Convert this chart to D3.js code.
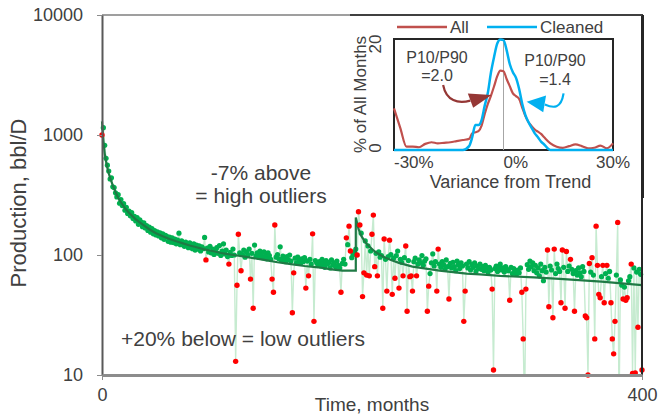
<!DOCTYPE html>
<html>
<head>
<meta charset="utf-8">
<script src="https://cdn.jsdelivr.net/npm/d3@7"></script>
<style>
  body { margin: 0; background: #fff; }
  text { font-family: "Liberation Sans", Arial, sans-serif; fill: #404040; }
</style>
</head>
<body>
<svg id="chart" width="659" height="417"></svg>
<script>
// Monthly production, bbl/D, month 0..400
const production = [
  1000, 1150, 820, 640, 560, 500, 430, 440, 370, 365, 330,
  305, 318, 270, 290, 258, 268, 236, 250, 222, 232,
  212, 226, 201, 210, 192, 205, 180, 196, 188, 172,
  185, 168, 176, 160, 171, 155, 166, 150, 160, 147,
  156, 144, 153, 139, 150, 135, 146, 143, 130, 141,
  128, 139, 127, 136, 124, 133, 152, 122, 131, 126,
  118, 128, 121, 115, 126, 119, 113, 124, 110, 121,
  112, 119, 108, 117, 113, 140, 91, 114, 106, 118,
  104, 112, 101, 110, 115, 103, 120, 99, 108, 124,
  102, 110, 97, 84, 105, 99, 112, 100, 13, 56,
  149, 104, 74, 101, 110, 96, 106, 100, 112, 63,
  103, 36, 121, 98, 104, 96, 108, 101, 95, 106,
  98, 93, 104, 99, 92, 63, 49, 178, 96, 101,
  93, 117, 90, 98, 94, 88, 97, 91, 100, 89,
  33, 71, 94, 86, 96, 91, 85, 93, 88, 95,
  53, 89, 67, 92, 84, 150, 28, 90, 86, 83,
  88, 81, 92, 85, 79, 90, 84, 87, 78, 91,
  83, 86, 80, 89, 82, 78, 49, 85, 92, 84,
  139, 122, 174, 108, 95, 101, 106, 112, 100, 229,
  178, 152, 45, 71, 131, 68, 119, 67, 108, 149,
  215, 80, 103, 67, 106, 96, 99, 36, 136, 92,
  50, 97, 133, 101, 47, 94, 64, 99, 108, 53,
  92, 87, 67, 95, 119, 34, 90, 66, 67, 50,
  88, 94, 67, 84, 91, 86, 99, 82, 89, 93,
  34, 55, 70, 86, 102, 81, 88, 50, 112, 84,
  79, 88, 83, 76, 91, 80, 43, 85, 78, 87,
  80, 74, 89, 83, 77, 86, 81, 28, 50, 84,
  78, 88, 75, 83, 79, 86, 73, 81, 77, 84,
  76, 80, 74, 82, 78, 72, 79, 75, 52, 11,
  77, 81, 73, 79, 84, 75, 78, 72, 80, 76,
  74, 42, 79, 70, 77, 73, 69, 75, 71, 78,
  49, 20, 5, 52, 83, 76, 89, 80, 86, 74,
  82, 71, 78, 67, 84, 74, 61, 79, 72, 110,
  37, 81, 75, 30, 112, 70, 84, 77, 73, 40,
  110, 79, 36, 107, 73, 81, 92, 76, 70, 34,
  74, 68, 78, 71, 66, 80, 73, 31, 30, 10,
  85, 72, 95, 68, 20, 174, 82, 47, 44, 66,
  82, 40, 70, 82, 64, 73, 40, 20, 15, 28,
  68, 187, 5, 62, 56, 43, 54, 42, 44, 61,
  66, 84, 10.3, 78, 10.4, 72, 25, 76, 69, 11
];

// Months flagged as outliers (drawn red)
const outlierMonths = [
  0, 77, 94, 99, 100, 101, 103, 110, 112, 126, 127, 128, 141, 142, 151, 153,
  156, 157, 177, 181, 183, 184, 189, 190, 191, 193, 194, 196, 198, 200, 201,
  202, 204, 208, 209, 211, 213, 215, 217, 220, 223, 225, 226, 228, 229, 230,
  233, 241, 242, 248, 249, 257, 268, 269, 289, 290, 302, 311, 312, 313, 314,
  330, 331, 334, 335, 340, 341, 343, 344, 347, 350, 358, 359, 360, 361, 363,
  365, 366, 367, 368, 369, 371, 372, 374, 377, 378, 379, 380, 382, 383, 386,
  388, 389, 392, 393, 395, 397, 400
];

// Decline trend (with the restart at month 188)
const trendMonths = [0, 1, 2, 3, 4, 5, 6, 8, 10, 12, 14, 17, 20, 25, 30, 35, 40, 45, 50, 55,
  60, 65, 70, 75, 80, 85, 90, 95, 100, 110, 120, 130, 140, 150, 160, 170, 178, 188,
  188, 190, 192, 194, 196, 199, 202, 206, 210, 215, 220, 230, 240, 250, 260, 270,
  280, 295, 320, 342, 370, 400];
const trendValues = [1300, 900, 700, 600, 530, 480, 440, 380, 335, 300, 275, 245, 225, 198, 180, 164, 152, 143, 136, 130,
  125, 120, 116, 112, 109, 106, 103, 101, 99, 95, 91, 87, 84, 81, 79, 76, 74, 74,
  205, 165, 145, 133, 124, 115, 107, 100, 95, 90, 86, 80, 77, 74, 72, 70,
  69, 67, 65, 63, 60, 56];

const yTicks = [10, 100, 1000, 10000];
const xTicks = [0, 400];

// Inset: distribution of monthly variance from trend, % of all months
const varianceBins = [-35, -33, -31, -29, -27, -25, -23, -21, -19, -17, -15, -13, -11, -10, -9, -8,
  -7, -6, -5, -4, -3, -2, -1, 0, 1, 2, 3, 4, 5, 6, 7, 8, 9, 10, 11, 12, 13, 15, 17, 19,
  21, 23, 25, 27, 29, 31, 33, 35];
const allPct = [7.5, 4.0, 0.6, 0.6, 0.5, 1.1, 1.4, 1.2, 1.3, 1.4, 1.6, 1.8, 2.0, 3.0, 3.2, 3.4,
  4.4, 6.5, 8.3, 9.8, 11.5, 13.3, 14.3, 14.2, 12.8, 11.5, 10.2, 9.7, 9.2, 7.6, 6.1, 5.0, 4.3, 3.7, 3.3, 2.9, 2.3, 1.2, 0.6, 0.4,
  0.7, 1.0, 0.7, 0.3, 0.4, 0.8, 0.3, 1.2];
const cleanedPct = [0, 0, 0, 0, 0, 0, 0, 0, 0, 0, 0, 0, 0.7, 2.3, 4.5, 4.5,
  5.4, 8.0, 10.3, 14.0, 16.8, 19.2, 19.9, 19.8, 18.0, 15.5, 14.0, 13.0, 11.0, 8.3, 6.3, 5.0, 4.0, 3.0, 2.3, 1.5, 1.0, 0, 0, 0,
  0, 0, 0, 0, 0, 0, 0, 0];
const insetXTicks = [-30, 0, 30];
const insetYTicks = [0, 20];

const svg = d3.select("#chart");
const FONT = '"Liberation Sans", Arial, sans-serif';

// ---- main chart ----
const x = d3.scaleLinear().domain([0, 400]).range([102, 642]);
const y = d3.scaleLog().domain([10, 10000]).range([375, 15]);

const defs = svg.append("defs");
defs.append("clipPath").attr("id", "plotClip")
  .append("rect").attr("x", x(0)).attr("y", y(10000)).attr("width", x(400) - x(0)).attr("height", y(10) - y(10000));
defs.append("clipPath").attr("id", "dotClip")
  .append("rect").attr("x", x(0) - 4).attr("y", y(10000)).attr("width", x(400) - x(0) + 8).attr("height", y(10) - y(10000) + 3);

const outlierSet = new Set(outlierMonths);
const points = production.map((v, i) => ({ month: i, value: v, outlier: outlierSet.has(i) }));

// all-months trace
svg.append("path")
  .datum(points)
  .attr("clip-path", "url(#plotClip)")
  .attr("fill", "none")
  .attr("stroke", "#c6ebd0")
  .attr("stroke-width", 1.4)
  .attr("d", d3.line().x(d => x(d.month)).y(d => y(d.value)));

// cleaned months
svg.append("g").attr("clip-path", "url(#dotClip)")
  .selectAll("circle")
  .data(points.filter(d => !d.outlier))
  .join("circle")
  .attr("cx", d => x(d.month))
  .attr("cy", d => y(d.value))
  .attr("r", 2.6)
  .attr("fill", "#00b050");

// trend
const trend = trendMonths.map((m, i) => [m, trendValues[i]]);
svg.append("path")
  .datum(trend)
  .attr("fill", "none")
  .attr("stroke", "#1f7a45")
  .attr("stroke-width", 2.2)
  .attr("d", d3.line().x(d => x(d[0])).y(d => y(d[1])));

// outliers
svg.append("g").attr("clip-path", "url(#dotClip)")
  .selectAll("circle")
  .data(points.filter(d => d.outlier))
  .join("circle")
  .attr("cx", d => x(d.month))
  .attr("cy", d => y(d.value))
  .attr("r", 2.7)
  .attr("fill", "#ff0000");

// frame
svg.append("line").attr("x1", x(0)).attr("x2", x(400)).attr("y1", y(10000)).attr("y2", y(10000))
  .attr("stroke", "#7f7f7f").attr("stroke-width", 1.5);
svg.append("line").attr("x1", x(400)).attr("x2", x(400)).attr("y1", y(10000) - 1).attr("y2", y(10))
  .attr("stroke", "#262626").attr("stroke-width", 2);

const yAxis = svg.append("g")
  .attr("transform", `translate(${x(0)},0)`)
  .call(d3.axisLeft(y).tickValues(yTicks).tickFormat(d3.format("d")).tickSize(5).tickPadding(14).tickSizeOuter(0));
yAxis.attr("font-family", FONT).attr("font-size", 18);
yAxis.select(".domain").attr("stroke", "#595959").attr("stroke-width", 2);
yAxis.selectAll(".tick line").attr("stroke", "#8c8c8c");
yAxis.selectAll(".tick text").attr("fill", "#404040");

const xAxis = svg.append("g")
  .attr("transform", `translate(0,${y(10)})`)
  .call(d3.axisBottom(x).tickValues(xTicks).tickSize(5).tickPadding(8).tickSizeOuter(0));
xAxis.attr("font-family", FONT).attr("font-size", 18);
xAxis.select(".domain").attr("stroke", "#8c8c8c").attr("stroke-width", 3);
xAxis.selectAll(".tick line").attr("stroke", "#8c8c8c");
xAxis.selectAll(".tick text").attr("fill", "#404040");

svg.append("text")
  .attr("transform", `translate(26,${(y(10) + y(10000)) / 2 + 8}) rotate(-90)`)
  .attr("text-anchor", "middle").attr("font-size", 22)
  .text("Production, bbl/D");
svg.append("text")
  .attr("x", (x(0) + x(400)) / 2).attr("y", 411)
  .attr("text-anchor", "middle").attr("font-size", 19)
  .text("Time, months");

svg.append("text").attr("x", 261).attr("y", 180).attr("text-anchor", "middle").attr("font-size", 21).text("-7% above");
svg.append("text").attr("x", 261).attr("y", 203).attr("text-anchor", "middle").attr("font-size", 21).text("= high outliers");
svg.append("text").attr("x", 121).attr("y", 346).attr("font-size", 21).text("+20% below = low outliers");

// ---- inset ----
const ix = d3.scaleLinear().domain([-35, 35]).range([394, 613]);
const iy = d3.scaleLinear().domain([0, 20]).range([150, 39]);

svg.append("rect").attr("x", 350).attr("y", 16).attr("width", x(400) - 351).attr("height", 182).attr("fill", "#fff");
svg.append("line").attr("x1", 350).attr("x2", x(400) + 1).attr("y1", 15).attr("y2", 15)
  .attr("stroke", "#404040").attr("stroke-width", 2);
svg.append("line").attr("x1", x(400) + 1).attr("x2", x(400) + 1).attr("y1", 15).attr("y2", 198)
  .attr("stroke", "#262626").attr("stroke-width", 2);

// legend
const legend = [
  { label: "All", color: "#c0504d", x0: 397 },
  { label: "Cleaned", color: "#00b0f0", x0: 487 }
];
legend.forEach(l => {
  svg.append("line").attr("x1", l.x0).attr("x2", l.x0 + 50).attr("y1", 27).attr("y2", 27)
    .attr("stroke", l.color).attr("stroke-width", 2.5);
  svg.append("text").attr("x", l.x0 + 53).attr("y", 33).attr("font-size", 17).text(l.label);
});

// inset plot box and zero line
svg.append("rect").attr("x", ix(-35)).attr("y", iy(20)).attr("width", ix(35) - ix(-35)).attr("height", iy(0) - iy(20))
  .attr("fill", "none").attr("stroke", "#262626").attr("stroke-width", 2);
svg.append("line").attr("x1", ix(0)).attr("x2", ix(0)).attr("y1", iy(0)).attr("y2", iy(20))
  .attr("stroke", "#a6a6a6").attr("stroke-width", 1);

const distLine = d3.line().x(d => ix(d[0])).y(d => iy(d[1])).curve(d3.curveMonotoneX);
svg.append("path").datum(varianceBins.map((v, i) => [v, allPct[i]]))
  .attr("fill", "none").attr("stroke", "#c0504d").attr("stroke-width", 2.2).attr("d", distLine);
svg.append("path").datum(varianceBins.map((v, i) => [v, cleanedPct[i]]))
  .attr("fill", "none").attr("stroke", "#00b0f0").attr("stroke-width", 2.5).attr("d", distLine);

// inset axes labels
svg.append("text").attr("x", ix(-35)).attr("y", 168).attr("font-size", 17).text(insetXTicks[0] + "%");
svg.append("text").attr("x", ix(insetXTicks[1])).attr("y", 168).attr("font-size", 17).text(insetXTicks[1] + "%");
svg.append("text").attr("x", ix(35)).attr("y", 168).attr("text-anchor", "middle").attr("font-size", 17).text(insetXTicks[2] + "%");
svg.append("text").attr("x", ix(0) + 7).attr("y", 188).attr("text-anchor", "middle").attr("font-size", 18).text("Variance from Trend");

insetYTicks.forEach(v => {
  svg.append("text")
    .attr("transform", `translate(381,${iy(v) + (v === 20 ? 5 : -2)}) rotate(-90)`)
    .attr("text-anchor", "middle").attr("font-size", 17).text(v);
});
svg.append("text")
  .attr("transform", `translate(366,${(iy(0) + iy(20)) / 2}) rotate(-90)`)
  .attr("text-anchor", "middle").attr("font-size", 17).text("% of All Months");

// P10/P90 notes
svg.append("text").attr("x", 437).attr("y", 63).attr("text-anchor", "middle").attr("font-size", 16).text("P10/P90");
svg.append("text").attr("x", 437).attr("y", 81).attr("text-anchor", "middle").attr("font-size", 16).text("=2.0");
svg.append("text").attr("x", 555).attr("y", 66).attr("text-anchor", "middle").attr("font-size", 16).text("P10/P90");
svg.append("text").attr("x", 555).attr("y", 85).attr("text-anchor", "middle").attr("font-size", 16).text("=1.4");

// arrows, positioned in inset units
const arrows = [
  { color: "#953735", shaft: [[-19.3, 11.7], [-18.3, 8.8], [-14.5, 8.3], [-10.6, 8.9]],
    head: [[-3.8, 9.9], [-11.4, 10.2], [-9.7, 7.6]] },
  { color: "#00b0f0", shaft: [[19.2, 10.2], [18.4, 7.4], [16, 7.5], [13.2, 8.2]],
    head: [[7.4, 8.7], [13.6, 9.8], [12.7, 6.8]] }
];
arrows.forEach(a => {
  const s = a.shaft.map(p => [ix(p[0]), iy(p[1])]);
  svg.append("path")
    .attr("d", `M${s[0]}C${s[1]} ${s[2]} ${s[3]}`)
    .attr("fill", "none").attr("stroke", a.color).attr("stroke-width", 2.2);
  svg.append("path")
    .attr("d", "M" + a.head.map(p => [ix(p[0]), iy(p[1])]).join("L") + "Z")
    .attr("fill", a.color);
});
</script>
</body>
</html>
